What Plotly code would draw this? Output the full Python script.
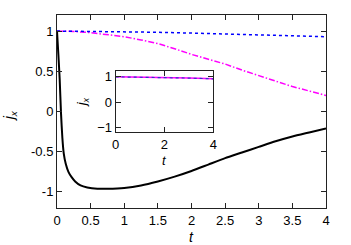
import plotly.graph_objects as go

# main panel data
t_black = [0, 0.02, 0.04, 0.06, 0.08, 0.1, 0.13, 0.17, 0.22, 0.27, 0.35, 0.45, 0.6, 0.75,
           1.0, 1.25, 1.5, 1.75, 2.0, 2.25, 2.5, 2.75, 3.0, 3.25, 3.5, 3.75, 4.0]
j_black = [1, 0.71, 0.40, -0.03, -0.33, -0.52, -0.65, -0.75, -0.82, -0.87, -0.92, -0.945, -0.96, -0.96,
           -0.95, -0.92, -0.87, -0.81, -0.74, -0.66, -0.58, -0.51, -0.44, -0.37, -0.31, -0.26, -0.21]

t_mag = [0, 0.25, 0.5, 0.75, 1.0, 1.25, 1.5, 1.75, 2.0, 2.25, 2.5, 2.75, 3.0, 3.25, 3.5, 3.75, 4.0]
j_mag = [1, 0.995, 0.98, 0.958, 0.93, 0.89, 0.845, 0.78, 0.71, 0.65, 0.59, 0.515, 0.445, 0.375, 0.31, 0.255, 0.20]

t_blue = [0, 0.5, 1.0, 1.5, 2.0, 2.5, 3.0, 3.5, 4.0]
j_blue = [1, 0.998, 0.99, 0.985, 0.975, 0.965, 0.955, 0.945, 0.93]

# inset data
t_in = [0, 1, 2, 3, 4]
j_in_blue = [1, 0.99, 0.97, 0.95, 0.92]
j_in_mag = [1, 0.99, 0.97, 0.95, 0.92]

x_ticks = [0, 0.5, 1, 1.5, 2, 2.5, 3, 3.5, 4]
x_ticklabels = ["0", "0.5", "1", "1.5", "2", "2.5", "3", "3.5", "4"]
y_ticks = [-1, -0.5, 0, 0.5, 1]
y_ticklabels = ["-1", "-0.5", "0", "0.5", "1"]
in_x_ticks = [0, 2, 4]
in_y_ticks = [-1, 0, 1]

FONT = "Liberation Sans, Arial, sans-serif"

fig = go.Figure()
fig.add_trace(go.Scatter(x=t_black, y=j_black, mode="lines", line=dict(color="black", width=2, shape="spline", smoothing=0.6)))
fig.add_trace(go.Scatter(x=t_mag, y=j_mag, mode="lines", line=dict(color="#ff00ff", width=1.5, dash="6px,2px,1.5px,2px")))
fig.add_trace(go.Scatter(x=t_blue, y=j_blue, mode="lines", line=dict(color="#0000ff", width=1.5, dash="dot")))

fig.add_trace(go.Scatter(x=t_in, y=j_in_mag, xaxis="x2", yaxis="y2", mode="lines", line=dict(color="#ff00ff", width=1.5)))
fig.add_trace(go.Scatter(x=t_in, y=j_in_blue, xaxis="x2", yaxis="y2", mode="lines", line=dict(color="#3333cc", width=1.2, dash="dot")))

axis_common = dict(showgrid=False, zeroline=False, showline=True, linecolor="#222", linewidth=1,
                   mirror="ticks", ticks="inside", ticklen=5, tickcolor="#222", automargin=False,
                   tickfont=dict(family=FONT, size=13, color="black"))

fig.update_layout(
    width=351, height=245,
    margin=dict(l=57, r=25, t=15, b=37),
    paper_bgcolor="white", plot_bgcolor="white",
    showlegend=False,
    font=dict(family=FONT, size=13, color="black"),
    xaxis=dict(range=[0, 4], tickvals=x_ticks, ticktext=x_ticklabels, **axis_common),
    yaxis=dict(range=[-1.2, 1.2], tickvals=y_ticks, ticktext=y_ticklabels, **axis_common),
    xaxis2=dict(domain=[0.218, 0.581], anchor="y2", range=[0, 4], tickvals=in_x_ticks, **axis_common),
    yaxis2=dict(domain=[0.392, 0.711], anchor="x2", range=[-1.2, 1.24], tickvals=in_y_ticks, **axis_common),
    annotations=[
        dict(text="<i>t</i>", xref="paper", yref="paper", x=0.5, y=-0.152, showarrow=False,
             xanchor="center", yanchor="middle", font=dict(size=14)),
        dict(text="<i>j</i><sub><i>x</i></sub>", xref="paper", yref="paper", x=-0.175, y=0.48, showarrow=False,
             textangle=-90, xanchor="center", yanchor="middle", font=dict(size=14)),
        dict(text="<i>t</i>", xref="paper", yref="paper", x=0.4, y=0.245, showarrow=False,
             xanchor="center", yanchor="middle", font=dict(size=13)),
        dict(text="<i>j</i><sub><i>x</i></sub>", xref="paper", yref="paper", x=0.094, y=0.549, showarrow=False,
             textangle=-90, xanchor="center", yanchor="middle", font=dict(size=13)),
    ],
)

fig.write_html("out.html", config={"displayModeBar": False},
               post_script="document.body.style.margin='0';")
